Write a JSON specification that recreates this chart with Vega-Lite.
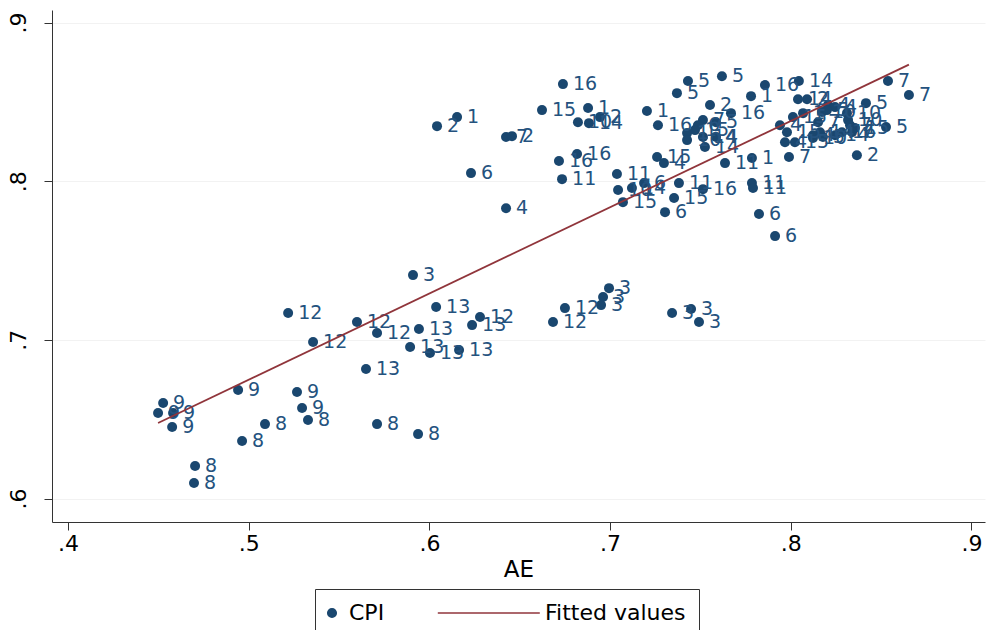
{
  "$schema": "https://vega.github.io/schema/vega-lite/v6.json",
  "width": 933,
  "height": 512,
  "autosize": {"type": "none"},
  "padding": {"left": 52, "top": 10, "right": 1, "bottom": 108},
  "background": "white",
  "config": {"view": {"stroke": null}, "font": "DejaVu Sans"},
  "datasets": {
    "pts": [
      {"AE": 0.5328, "CPI": 0.6495, "g": "8"},
      {"AE": 0.5090, "CPI": 0.6469, "g": "8"},
      {"AE": 0.4963, "CPI": 0.6362, "g": "8"},
      {"AE": 0.4703, "CPI": 0.6205, "g": "8"},
      {"AE": 0.4697, "CPI": 0.6098, "g": "8"},
      {"AE": 0.5710, "CPI": 0.6469, "g": "8"},
      {"AE": 0.5937, "CPI": 0.6406, "g": "8"},
      {"AE": 0.4526, "CPI": 0.6602, "g": "9"},
      {"AE": 0.4498, "CPI": 0.6539, "g": "9"},
      {"AE": 0.4581, "CPI": 0.6539, "g": "9"},
      {"AE": 0.4576, "CPI": 0.6451, "g": "9"},
      {"AE": 0.4941, "CPI": 0.6684, "g": "9"},
      {"AE": 0.5267, "CPI": 0.6671, "g": "9"},
      {"AE": 0.5295, "CPI": 0.6570, "g": "9"},
      {"AE": 0.5218, "CPI": 0.7169, "g": "12"},
      {"AE": 0.5356, "CPI": 0.6986, "g": "12"},
      {"AE": 0.5599, "CPI": 0.7112, "g": "12"},
      {"AE": 0.5710, "CPI": 0.7043, "g": "12"},
      {"AE": 0.6280, "CPI": 0.7144, "g": "12"},
      {"AE": 0.6684, "CPI": 0.7112, "g": "12"},
      {"AE": 0.6750, "CPI": 0.7200, "g": "12"},
      {"AE": 0.5649, "CPI": 0.6816, "g": "13"},
      {"AE": 0.5942, "CPI": 0.7068, "g": "13"},
      {"AE": 0.6037, "CPI": 0.7207, "g": "13"},
      {"AE": 0.6236, "CPI": 0.7093, "g": "13"},
      {"AE": 0.5893, "CPI": 0.6955, "g": "13"},
      {"AE": 0.6003, "CPI": 0.6917, "g": "13"},
      {"AE": 0.6164, "CPI": 0.6936, "g": "13"},
      {"AE": 0.5909, "CPI": 0.7408, "g": "3"},
      {"AE": 0.6994, "CPI": 0.7326, "g": "3"},
      {"AE": 0.6961, "CPI": 0.7270, "g": "3"},
      {"AE": 0.6950, "CPI": 0.7219, "g": "3"},
      {"AE": 0.7343, "CPI": 0.7169, "g": "3"},
      {"AE": 0.7448, "CPI": 0.7194, "g": "3"},
      {"AE": 0.7492, "CPI": 0.7112, "g": "3"},
      {"AE": 0.6153, "CPI": 0.8404, "g": "1"},
      {"AE": 0.6042, "CPI": 0.8347, "g": "2"},
      {"AE": 0.6424, "CPI": 0.8278, "g": "7"},
      {"AE": 0.6457, "CPI": 0.8284, "g": "2"},
      {"AE": 0.6230, "CPI": 0.8051, "g": "6"},
      {"AE": 0.6424, "CPI": 0.7830, "g": "4"},
      {"AE": 0.6739, "CPI": 0.8612, "g": "16"},
      {"AE": 0.6623, "CPI": 0.8448, "g": "15"},
      {"AE": 0.6878, "CPI": 0.8461, "g": "1"},
      {"AE": 0.6822, "CPI": 0.8372, "g": "10"},
      {"AE": 0.6883, "CPI": 0.8366, "g": "14"},
      {"AE": 0.6944, "CPI": 0.8404, "g": "2"},
      {"AE": 0.7204, "CPI": 0.8442, "g": "1"},
      {"AE": 0.7265, "CPI": 0.8353, "g": "16"},
      {"AE": 0.6717, "CPI": 0.8127, "g": "16"},
      {"AE": 0.6817, "CPI": 0.8171, "g": "16"},
      {"AE": 0.6734, "CPI": 0.8013, "g": "11"},
      {"AE": 0.7038, "CPI": 0.8045, "g": "11"},
      {"AE": 0.7044, "CPI": 0.7944, "g": "10"},
      {"AE": 0.7121, "CPI": 0.7957, "g": "14"},
      {"AE": 0.7188, "CPI": 0.7988, "g": "6"},
      {"AE": 0.7071, "CPI": 0.7868, "g": "15"},
      {"AE": 0.7260, "CPI": 0.8152, "g": "15"},
      {"AE": 0.7298, "CPI": 0.8114, "g": "4"},
      {"AE": 0.7381, "CPI": 0.7988, "g": "11"},
      {"AE": 0.7354, "CPI": 0.7894, "g": "15"},
      {"AE": 0.7304, "CPI": 0.7805, "g": "6"},
      {"AE": 0.7514, "CPI": 0.7950, "g": "16"},
      {"AE": 0.7636, "CPI": 0.8114, "g": "11"},
      {"AE": 0.7785, "CPI": 0.8146, "g": "1"},
      {"AE": 0.7785, "CPI": 0.7988, "g": "11"},
      {"AE": 0.7791, "CPI": 0.7957, "g": "11"},
      {"AE": 0.7824, "CPI": 0.7793, "g": "6"},
      {"AE": 0.7913, "CPI": 0.7654, "g": "6"},
      {"AE": 0.7431, "CPI": 0.8631, "g": "5"},
      {"AE": 0.7619, "CPI": 0.8662, "g": "5"},
      {"AE": 0.7370, "CPI": 0.8555, "g": "5"},
      {"AE": 0.7857, "CPI": 0.8606, "g": "16"},
      {"AE": 0.7780, "CPI": 0.8536, "g": "1"},
      {"AE": 0.7553, "CPI": 0.8480, "g": "2"},
      {"AE": 0.7669, "CPI": 0.8429, "g": "16"},
      {"AE": 0.7514, "CPI": 0.8385, "g": "7"},
      {"AE": 0.7586, "CPI": 0.8372, "g": "5"},
      {"AE": 0.7486, "CPI": 0.8353, "g": "6"},
      {"AE": 0.7426, "CPI": 0.8303, "g": "1"},
      {"AE": 0.7426, "CPI": 0.8259, "g": "10"},
      {"AE": 0.7514, "CPI": 0.8278, "g": "14"},
      {"AE": 0.7586, "CPI": 0.8278, "g": "4"},
      {"AE": 0.7525, "CPI": 0.8215, "g": "14"},
      {"AE": 0.7470, "CPI": 0.8322, "g": "15"},
      {"AE": 0.7990, "CPI": 0.8152, "g": "7"},
      {"AE": 0.8045, "CPI": 0.8631, "g": "14"},
      {"AE": 0.8040, "CPI": 0.8517, "g": "14"},
      {"AE": 0.8090, "CPI": 0.8517, "g": "2"},
      {"AE": 0.8206, "CPI": 0.8480, "g": "4"},
      {"AE": 0.8245, "CPI": 0.8467, "g": "4"},
      {"AE": 0.8173, "CPI": 0.8436, "g": "10"},
      {"AE": 0.8200, "CPI": 0.8448, "g": "5"},
      {"AE": 0.8012, "CPI": 0.8404, "g": "15"},
      {"AE": 0.8068, "CPI": 0.8429, "g": "1"},
      {"AE": 0.8311, "CPI": 0.8429, "g": "10"},
      {"AE": 0.8317, "CPI": 0.8385, "g": "10"},
      {"AE": 0.8151, "CPI": 0.8372, "g": "7"},
      {"AE": 0.8328, "CPI": 0.8353, "g": "7"},
      {"AE": 0.8355, "CPI": 0.8335, "g": "15"},
      {"AE": 0.8162, "CPI": 0.8309, "g": "14"},
      {"AE": 0.8123, "CPI": 0.8290, "g": "4"},
      {"AE": 0.7940, "CPI": 0.8353, "g": "4"},
      {"AE": 0.7979, "CPI": 0.8309, "g": "15"},
      {"AE": 0.8123, "CPI": 0.8272, "g": "10"},
      {"AE": 0.8178, "CPI": 0.8278, "g": "5"},
      {"AE": 0.8245, "CPI": 0.8290, "g": "14"},
      {"AE": 0.8283, "CPI": 0.8309, "g": "16"},
      {"AE": 0.7968, "CPI": 0.8246, "g": "4"},
      {"AE": 0.8023, "CPI": 0.8246, "g": "15"},
      {"AE": 0.8339, "CPI": 0.8309, "g": "7"},
      {"AE": 0.8366, "CPI": 0.8164, "g": "2"},
      {"AE": 0.8538, "CPI": 0.8631, "g": "7"},
      {"AE": 0.8654, "CPI": 0.8543, "g": "7"},
      {"AE": 0.8416, "CPI": 0.8492, "g": "5"},
      {"AE": 0.8527, "CPI": 0.8341, "g": "5"}
    ],
    "fit": [
      {"AE": 0.4498, "Fit": 0.6476},
      {"AE": 0.8654, "Fit": 0.8735}
    ]
  },
  "layer": [
    {
      "data": {"name": "pts"},
      "mark": {"type": "circle", "size": 100, "opacity": 1},
      "encoding": {
        "x": {
          "field": "AE", "type": "quantitative",
          "scale": {"domain": [0.3911, 0.9075], "nice": false, "zero": false},
          "axis": {
            "values": [0.4, 0.5, 0.6, 0.7, 0.8, 0.9],
            "labelExpr": "replace(format(datum.value, '.1f'), '0.', '.')",
            "title": "AE", "grid": false, "tickSize": 8,
            "labelFontSize": 22, "labelPadding": 3, "labelFont": "DejaVu Sans",
            "titleFontSize": 23, "titlePadding": 4, "titleFont": "DejaVu Sans", "titleFontWeight": "normal",
            "domainColor": "#333", "tickColor": "#333", "labelColor": "#000", "titleColor": "#000",
            "labelFlush": false, "labelOverlap": false
          }
        },
        "y": {
          "field": "CPI", "type": "quantitative",
          "scale": {"domain": [0.5852, 0.9079], "nice": false, "zero": false},
          "axis": {
            "values": [0.6, 0.7, 0.8, 0.9],
            "labelExpr": "replace(format(datum.value, '.1f'), '0.', '.')",
            "title": null, "grid": true, "gridColor": "#f2f2f2", "tickSize": 8,
            "labelAngle": 270, "labelAlign": "center", "labelBaseline": "alphabetic",
            "labelFontSize": 22, "labelPadding": 19, "labelFont": "DejaVu Sans",
            "domainColor": "#333", "tickColor": "#333", "labelColor": "#000",
            "labelFlush": false, "labelOverlap": false
          }
        },
        "color": {
          "datum": "CPI", "type": "nominal",
          "scale": {"domain": ["CPI", "Fitted values"], "range": ["#1a476f", "#90353b"]},
          "legend": {
            "title": null, "orient": "none", "legendX": 263, "legendY": 579,
            "direction": "horizontal", "strokeColor": "#333", "fillColor": "#ffffff",
            "padding": 13, "symbolSize": 100,
            "symbolType": {"expr": "datum.value === 'CPI' ? 'M0.85,0C0.85,0.469,0.469,0.85,0,0.85C-0.469,0.85,-0.85,0.469,-0.85,0C-0.85,-0.469,-0.469,-0.85,0,-0.85C0.469,-0.85,0.85,-0.469,0.85,0Z' : 'M-18.04,0L2.36,0'"},
            "symbolStrokeColor": {"expr": "datum.value === 'CPI' ? '#1a476f' : '#90353b'"},
            "symbolStrokeWidth": 1.6,
            "symbolOpacity": 1,
            "labelFontSize": 22, "labelFont": "DejaVu Sans", "labelColor": "#000",
            "labelOffset": 6, "columnPadding": 49, "symbolOffset": -7, "labelLimit": 400
          }
        }
      }
    },
    {
      "data": {"name": "pts"},
      "mark": {"type": "text", "align": "left", "baseline": "middle", "dx": 10, "fontSize": 19, "font": "DejaVu Sans", "color": "#24527e"},
      "encoding": {
        "x": {"field": "AE", "type": "quantitative"},
        "y": {"field": "CPI", "type": "quantitative"},
        "text": {"field": "g"}
      }
    },
    {
      "data": {"name": "fit"},
      "mark": {"type": "line", "strokeWidth": 1.8},
      "encoding": {
        "x": {"field": "AE", "type": "quantitative"},
        "y": {"field": "Fit", "type": "quantitative"},
        "color": {"datum": "Fitted values", "type": "nominal"}
      }
    }
  ]
}
